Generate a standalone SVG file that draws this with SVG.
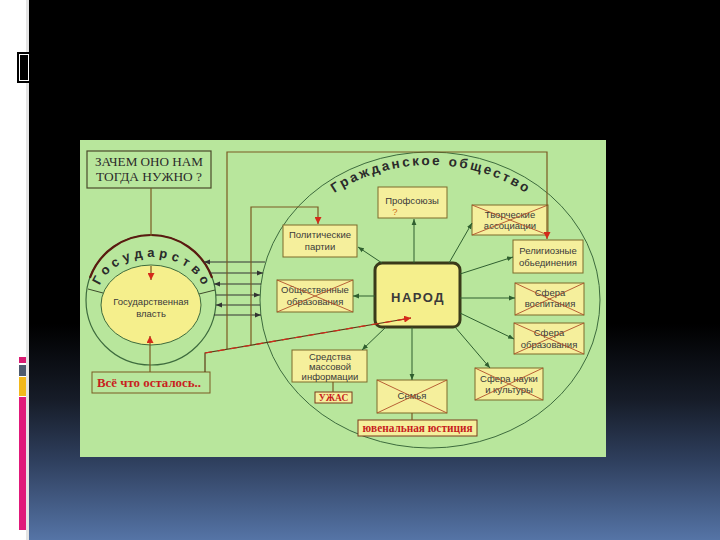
<svg xmlns="http://www.w3.org/2000/svg" width="720" height="540" viewBox="0 0 720 540">
<defs>
<linearGradient id="bg" x1="0" y1="0" x2="0" y2="1">
<stop offset="0" stop-color="#000"/>
<stop offset="0.6" stop-color="#000"/>
<stop offset="0.74" stop-color="#161c28"/>
<stop offset="0.85" stop-color="#2e3e5c"/>
<stop offset="1" stop-color="#5574a6"/>
</linearGradient>
<marker id="ag" viewBox="0 0 10 10" refX="10" refY="5" markerWidth="6" markerHeight="6" markerUnits="userSpaceOnUse" orient="auto"><path d="M0,1 L10,5 L0,9 z" fill="#2f5f2f"/></marker>
<marker id="ak" viewBox="0 0 10 10" refX="10" refY="5" markerWidth="6" markerHeight="6" markerUnits="userSpaceOnUse" orient="auto"><path d="M0,1 L10,5 L0,9 z" fill="#333"/></marker>
<marker id="ar" viewBox="0 0 10 10" refX="10" refY="5" markerWidth="7" markerHeight="7" markerUnits="userSpaceOnUse" orient="auto"><path d="M0,0 L10,5 L0,10 z" fill="#d42a1a"/></marker>
<path id="gosArc" d="M 97 298 A 54 41 0 0 1 205 298"/>
<path id="civArc" d="M 273 300 A 157 135 0 0 1 587 300"/>
</defs>
<style>
.box{fill:#f5ef9c;stroke:#7d6a2a;stroke-width:1}
.x{stroke:#b0502a;stroke-width:0.9;fill:none}
.t{font-family:"Liberation Sans",Arial,sans-serif;font-size:9.5px;fill:#3a3a3a;text-anchor:middle}
.s{font-family:"Liberation Serif","Times New Roman",serif;text-anchor:middle}
.red{fill:#c81e1e;font-weight:bold}
.gl{stroke:#2f5f2f;stroke-width:1;fill:none;marker-end:url(#ag)}
.kl{stroke:#333;stroke-width:1;fill:none;marker-end:url(#ak)}
.bl{stroke:#7a5a22;stroke-width:1.2;fill:none}
.arc{font-family:"Liberation Sans",Arial,sans-serif;font-weight:bold;fill:#2a2a2a}
</style>

<!-- slide background -->
<rect x="0" y="0" width="720" height="540" fill="#fff"/>
<rect x="26" y="0" width="3" height="540" fill="#e4e4e4"/>
<rect x="29" y="0" width="691" height="540" fill="url(#bg)"/>
<rect x="17" y="52" width="12" height="31" fill="#000"/>
<rect x="19.5" y="54.5" width="9" height="26" fill="none" stroke="#fff" stroke-width="1"/>
<rect x="19" y="357" width="7" height="6" fill="#d81b72"/>
<rect x="19" y="365" width="7" height="11" fill="#4d5a6e"/>
<rect x="19" y="377" width="7" height="19" fill="#f2b81c"/>
<rect x="19" y="397" width="7" height="133" fill="#e0197a"/>

<!-- green panel -->
<rect x="80" y="140" width="526" height="317" fill="#b8e69c"/>

<g id="civil-society">
<ellipse cx="430" cy="300" rx="170" ry="148" fill="none" stroke="#3d6b3d" stroke-width="1"/>
<text class="arc" font-size="13.5"><textPath href="#civArc" startOffset="50%" text-anchor="middle" textLength="202" lengthAdjust="spacing">Гражданское общество</textPath></text>
</g>

<g id="gosudarstvo">
<circle cx="151" cy="300" r="65" fill="none" stroke="#3d6b3d" stroke-width="1.2"/>
<path d="M 89.9 277.8 A 65 65 0 0 1 212.1 277.8" fill="none" stroke="#5a1a10" stroke-width="2.2"/>
<line x1="88" y1="289" x2="103" y2="293" stroke="#3d4a2a" stroke-width="1"/>
<line x1="199" y1="294" x2="215" y2="290" stroke="#3d4a2a" stroke-width="1"/>
<text class="arc" font-size="13"><textPath href="#gosArc" startOffset="50%" text-anchor="middle" textLength="124" lengthAdjust="spacing">Государство</textPath></text>
</g>

<g id="gos-vlast">
<ellipse cx="151" cy="305" rx="50" ry="40" fill="#f5ef8c" stroke="#3d6b3d" stroke-width="1"/>
<text class="t" x="151" y="305" font-size="11">Государственная</text>
<text class="t" x="151" y="317" font-size="11">власть</text>
</g>

<g id="zachem">
<rect x="87" y="151" width="124" height="37" fill="#b8e69c" stroke="#4a4a2a" stroke-width="1.2"/>
<text class="s" x="149" y="166" font-size="11.5" fill="#2a2a2a" textLength="108" lengthAdjust="spacingAndGlyphs">ЗАЧЕМ ОНО НАМ</text>
<text class="s" x="149" y="181" font-size="11.5" fill="#2a2a2a" textLength="106" lengthAdjust="spacingAndGlyphs">ТОГДА НУЖНО ?</text>
</g>

<g id="vse-chto">
<rect x="92" y="372" width="118" height="21" fill="#b8e69c" stroke="#7a5a22" stroke-width="1"/>
<text class="s red" x="149" y="387" font-size="11.5" textLength="104" lengthAdjust="spacingAndGlyphs">Всё что осталось..</text>
</g>

<g id="politicheskie">
<rect class="box" x="283" y="225" width="74" height="32"/>
<text class="t" x="320" y="238">Политические</text>
<text class="t" x="320" y="250">партии</text>
</g>

<g id="profsoyuzy">
<rect class="box" x="378" y="187" width="69" height="31"/>
<text class="t" x="412" y="204">Профсоюзы</text>
<text class="t" x="395" y="215" style="fill:#d0701a">?</text>
</g>

<g id="tvorcheskie">
<rect class="box" x="472" y="205" width="76" height="30"/>
<text class="t" x="510" y="218">Творческие</text>
<text class="t" x="510" y="229">ассоциации</text>
<path class="x" d="M472 205 L548 235 M472 235 L548 205"/>
</g>

<g id="religioznye">
<rect class="box" x="513" y="240" width="70" height="33"/>
<text class="t" x="548" y="254">Религиозные</text>
<text class="t" x="548" y="266">обьединения</text>
</g>

<g id="obshchestvennye">
<rect class="box" x="277" y="280" width="76" height="32"/>
<text class="t" x="315" y="293">Общественные</text>
<text class="t" x="315" y="305">образования</text>
<path class="x" d="M277 280 L353 312 M277 312 L353 280"/>
</g>

<g id="narod">
<rect x="375" y="263" width="85" height="64" rx="7" fill="#f5ef8c" stroke="#3a3a1a" stroke-width="3"/>
<text x="418" y="302" font-family="Liberation Sans, Arial, sans-serif" font-size="13" font-weight="bold" fill="#3a3a3a" text-anchor="middle" letter-spacing="1.5">НАРОД</text>
</g>

<g id="vospitanie">
<rect class="box" x="515" y="283" width="69" height="32"/>
<text class="t" x="550" y="296">Сфера</text>
<text class="t" x="550" y="307">воспитания</text>
<path class="x" d="M515 283 L584 315 M515 315 L584 283"/>
</g>

<g id="obrazovanie">
<rect class="box" x="514" y="323" width="70" height="31"/>
<text class="t" x="549" y="336">Сфера</text>
<text class="t" x="549" y="348">образования</text>
<path class="x" d="M514 323 L584 354 M514 354 L584 323"/>
</g>

<g id="nauka">
<rect class="box" x="475" y="368" width="68" height="32"/>
<text class="t" x="509" y="382">Сфера науки</text>
<text class="t" x="509" y="393">и культуры</text>
<path class="x" d="M475 368 L543 400 M475 400 L543 368"/>
</g>

<g id="semya">
<rect class="box" x="377" y="380" width="70" height="33"/>
<text class="t" x="412" y="399">Семья</text>
<path class="x" d="M377 380 L447 413 M377 413 L447 380"/>
</g>

<g id="yuvenalnaya">
<rect x="358" y="420" width="119" height="16" fill="#f5ef9c" stroke="#7a3a1a" stroke-width="1"/>
<text class="s red" x="417.5" y="432" font-size="11.5" textLength="110" lengthAdjust="spacingAndGlyphs">ювенальная юстиция</text>
</g>

<g id="smi">
<rect class="box" x="292" y="350" width="75" height="32"/>
<text class="t" x="330" y="360">Средства</text>
<text class="t" x="330" y="370">массовой</text>
<text class="t" x="330" y="380">информации</text>
</g>

<g id="uzhas">
<rect x="315" y="392" width="37" height="11" fill="#f5ef9c" stroke="#7a3a1a" stroke-width="1"/>
<text class="s red" x="333.5" y="401" font-size="9.5">УЖАС</text>
</g>

<g id="connectors">
<line class="gl" x1="414" y1="263" x2="414" y2="219"/>
<line class="gl" x1="382" y1="263" x2="358" y2="247"/>
<line class="gl" x1="449" y1="263" x2="472" y2="223"/>
<line class="gl" x1="460" y1="274" x2="513" y2="257"/>
<line class="gl" x1="460" y1="298" x2="515" y2="298"/>
<line class="gl" x1="460" y1="313" x2="514" y2="339"/>
<line class="gl" x1="455" y1="327" x2="490" y2="368"/>
<line class="gl" x1="412" y1="327" x2="412" y2="380"/>
<line class="gl" x1="386" y1="327" x2="362" y2="350"/>
<line class="gl" x1="375" y1="296" x2="353" y2="296"/>
<line class="kl" x1="265" y1="262" x2="204" y2="262"/>
<line class="kl" x1="210" y1="273" x2="263" y2="273"/>
<line class="kl" x1="261" y1="284" x2="214" y2="284"/>
<line class="kl" x1="216" y1="295" x2="260" y2="295"/>
<line class="kl" x1="260" y1="305" x2="216" y2="305"/>
<line class="kl" x1="214" y1="315" x2="261" y2="315"/>
<line class="bl" x1="151" y1="188" x2="151" y2="236"/>
<line class="bl" x1="151" y1="266" x2="151" y2="280" style="marker-end:url(#ar)"/>
<line class="bl" x1="150" y1="372" x2="150" y2="336" style="marker-end:url(#ar)"/>
<polyline class="bl" points="227,349 227,152 547,152 547,239" style="marker-end:url(#ar)"/>
<polyline class="bl" points="251,345 251,207 318,207 318,224" style="marker-end:url(#ar)"/>
<polyline class="bl" points="205,372 205,353 411,318" style="stroke:#5a3a14;marker-end:url(#ar)"/>
<line x1="205" y1="353" x2="411" y2="318" stroke="#d42a1a" stroke-width="1.2" stroke-dasharray="7 6"/>
<line class="bl" x1="412" y1="413" x2="412" y2="420"/>
<line class="bl" x1="333" y1="382" x2="333" y2="392"/>
</g>
</svg>
